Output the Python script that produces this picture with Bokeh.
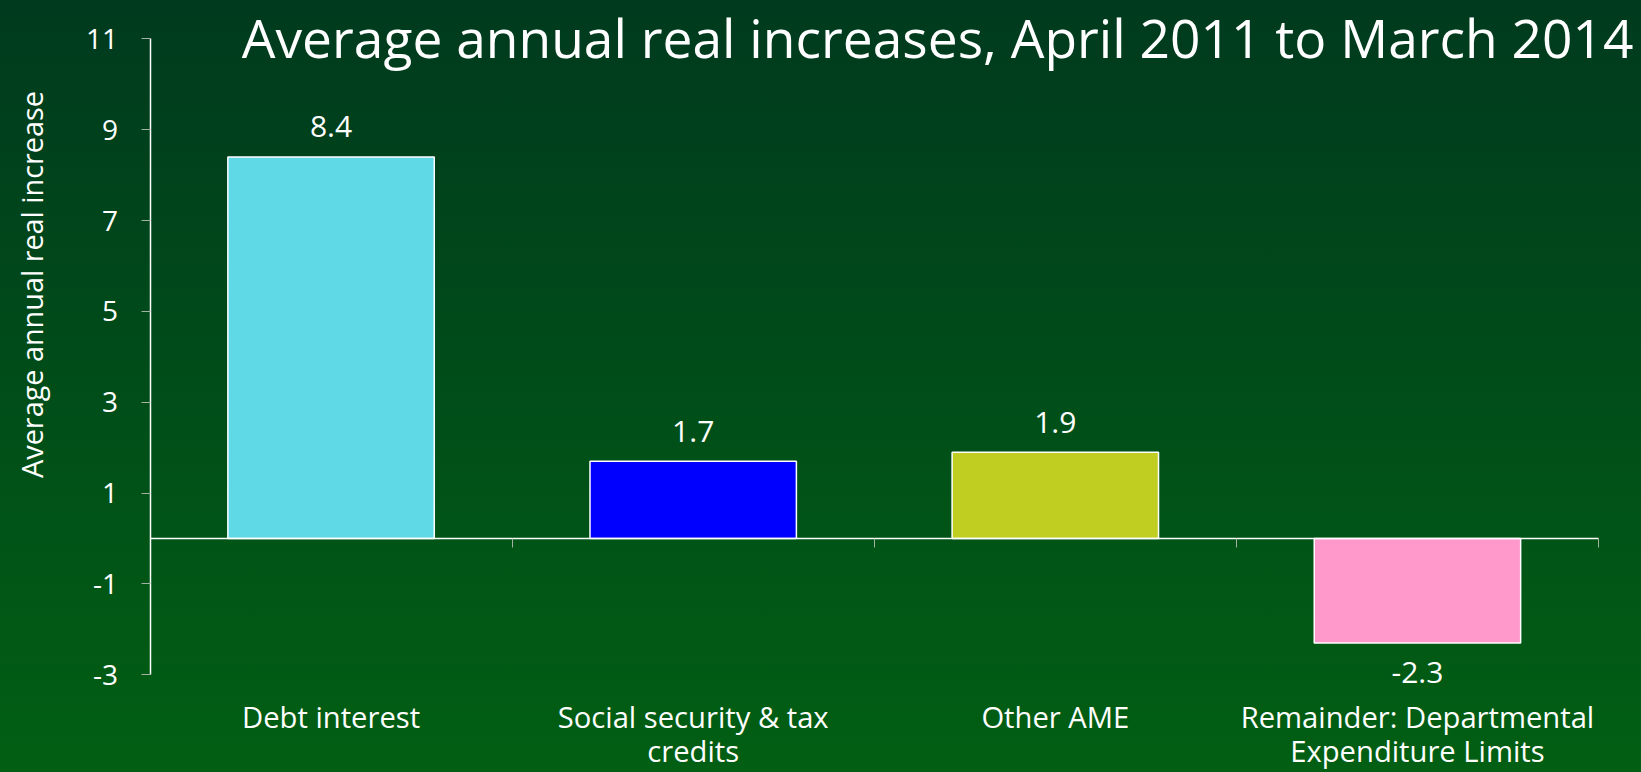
import math
from bokeh.plotting import figure
from bokeh.models import Range1d, FixedTicker, LinearAxis, ColumnDataSource, Label
from bokeh.core.properties import value
from bokeh.embed import file_html
from bokeh.resources import INLINE

title_text = "Average annual real increases, April 2011 to March 2014"
categories = ["Debt interest", "Social security & tax\ncredits", "Other AME",
              "Remainder: Departmental\nExpenditure Limits"]
values = [8.4, 1.7, 1.9, -2.3]
bar_colors = ["#60d9e6", "#0000ff", "#c0ce22", "#ff99cc"]
y_ticks = [-3, -1, 1, 3, 5, 7, 9, 11]
y_tick_labels = ["-3", "-1", "1", "3", "5", "7", "9", "11"]
y_label = "Average annual real increase"

FONT = "Open Sans"
TICK_COLOR = "#a3b3a3"
W, H = 1641, 772

# layout of the axes box on the canvas (pixels)
AX_L, AX_R, AX_T, AX_B = 149.5, 1598.0, 38.3, 674.3

n = len(categories)
y_lo, y_hi = y_ticks[0], y_ticks[-1]
px_x = (AX_R - AX_L) / n
px_y = (AX_B - AX_T) / (y_hi - y_lo)

positions = [i + 0.5 for i in range(n)]
boundaries = [i + 1 for i in range(n)]
labels_txt = [f"{v:.1f}" for v in values]
offsets = [-30 if v >= 0 else 29 for v in values]

src = ColumnDataSource(dict(x=positions, top=values, color=bar_colors,
                            label=labels_txt, off=offsets))

p = figure(width=W, height=H, output_backend="svg", toolbar_location=None,
           x_range=Range1d(-AX_L / px_x, n + (W - AX_R) / px_x),
           y_range=Range1d(y_lo - (H - AX_B) / px_y, y_hi + AX_T / px_y),
           min_border=0, min_border_left=0, min_border_right=0,
           min_border_top=0, min_border_bottom=0,
           background_fill_color=None, border_fill_color=None,
           outline_line_color=None, x_axis_location=None, y_axis_location=None)
p.styles = {"background": "linear-gradient(to bottom, #003a1e 0%, #004d19 50%, #025f13 100%)"}
p.xgrid.visible = False
p.ygrid.visible = False

# left axis at x = 0
yax = LinearAxis(ticker=FixedTicker(ticks=y_ticks), fixed_location=0, bounds=(y_lo, y_hi),
                 major_label_overrides={t: s for t, s in zip(y_ticks, y_tick_labels)})
yax.axis_line_color = "white"
yax.axis_line_width = 1.5
yax.major_tick_line_color = TICK_COLOR
yax.major_tick_out = 9
yax.major_tick_in = 0
yax.minor_tick_line_color = None
yax.major_label_text_color = "white"
yax.major_label_text_font = FONT
yax.major_label_text_font_size = "28px"
yax.major_label_standoff = 23
p.add_layout(yax, "left")

# category label axis at the bottom of the value range
xlab = LinearAxis(ticker=FixedTicker(ticks=positions), fixed_location=y_lo,
                  major_label_overrides={pos: cat for pos, cat in zip(positions, categories)})
xlab.axis_line_color = None
xlab.major_tick_line_color = None
xlab.minor_tick_line_color = None
xlab.major_tick_out = 0
xlab.major_tick_in = 0
xlab.major_label_text_color = "white"
xlab.major_label_text_font = FONT
xlab.major_label_text_font_size = "29.2px"
xlab.major_label_text_line_height = 0.86
xlab.major_label_standoff = 22
p.add_layout(xlab, "below")

# zero line axis (ticks hang below the zero line)
xzero = LinearAxis(ticker=FixedTicker(ticks=boundaries), fixed_location=0, bounds=(0, n))
xzero.axis_line_color = "white"
xzero.axis_line_width = 1.5
xzero.major_tick_line_color = TICK_COLOR
xzero.major_tick_out = 9
xzero.major_tick_in = 0
xzero.minor_tick_line_color = None
xzero.major_label_standoff = 0
xzero.major_label_text_font_size = "0px"
xzero.major_label_text_color = None
p.add_layout(xzero, "below")

p.vbar(x="x", top="top", bottom=0, width=0.57, fill_color="color",
       line_color="white", line_width=1.5, source=src)

p.text(x="x", y="top", text="label", y_offset="off", text_align="center",
       text_baseline="middle", text_color="white", text_font=value(FONT),
       text_font_size="30px", source=src)

title = Label(x=1633, y=H - 37, x_units="screen", y_units="screen", text=title_text,
              text_align="right", text_baseline="alphabetic", text_color="white",
              text_font=FONT, text_font_size="53.3px")
p.add_layout(title)

ylab = Label(x=31, y=H - 284, x_units="screen", y_units="screen", text=y_label,
             angle=math.pi / 2, text_align="center", text_baseline="alphabetic",
             text_color="white", text_font=FONT, text_font_size="28.8px")
p.add_layout(ylab)

open("out.html", "w").write(file_html(p, INLINE))
